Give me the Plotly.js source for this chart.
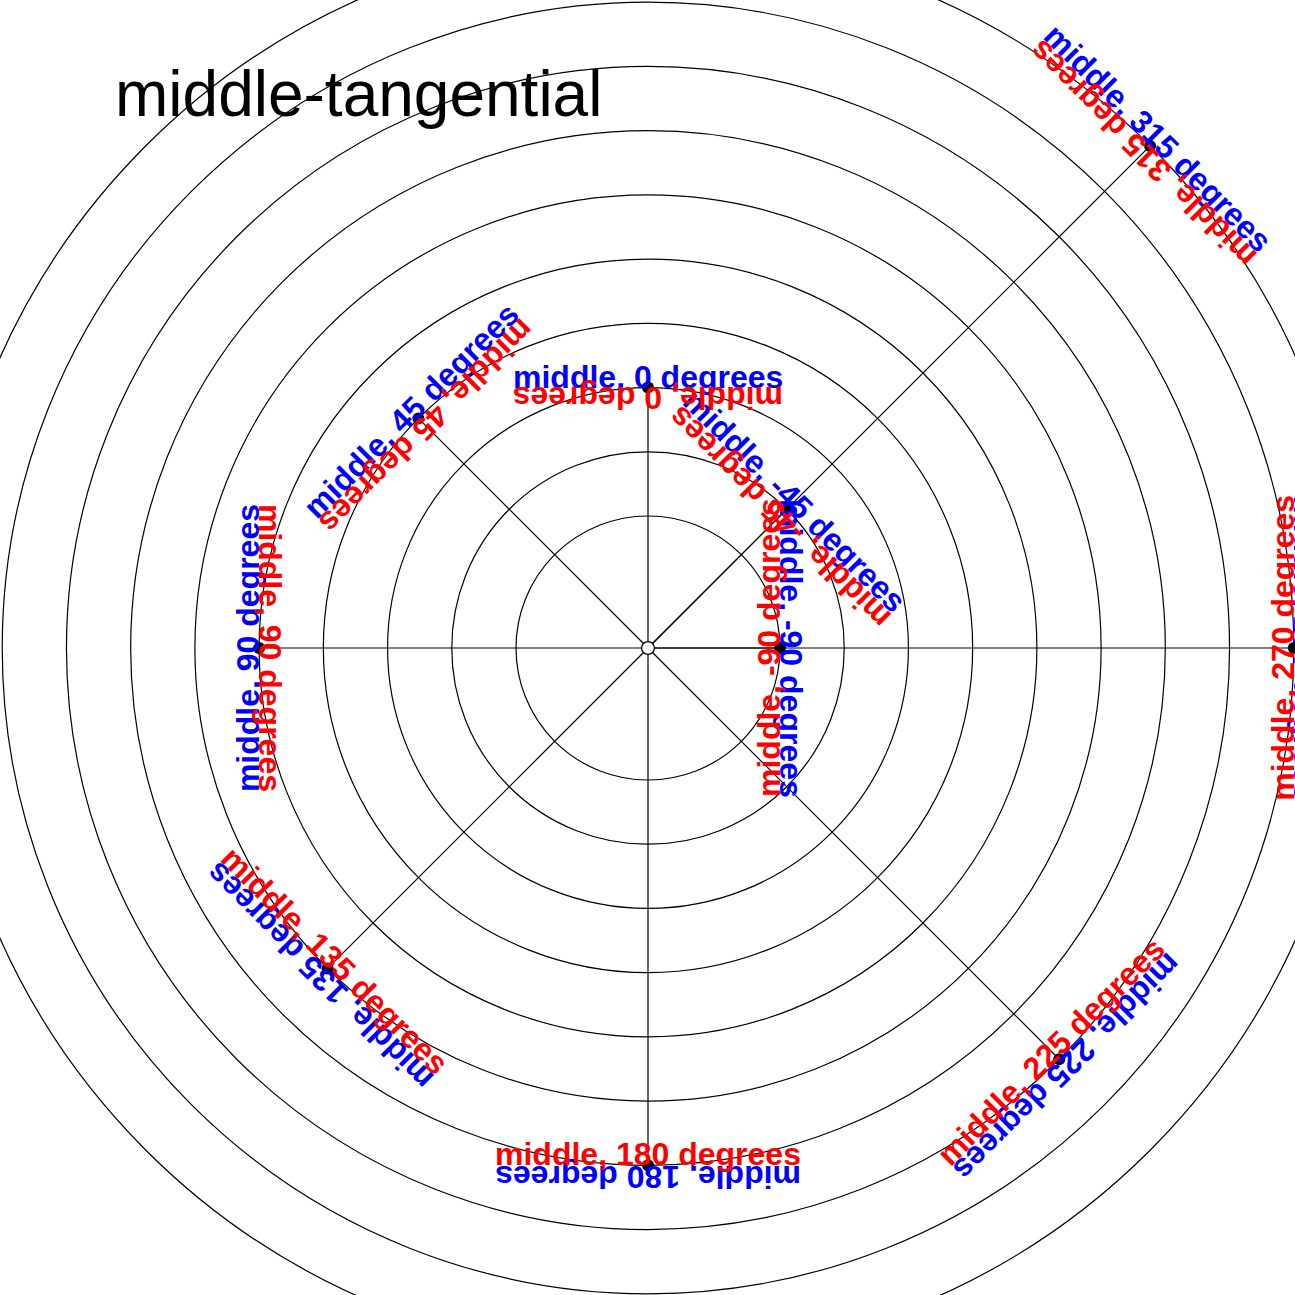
<!DOCTYPE html>
<html>
<head>
<meta charset="utf-8">
<script src="https://cdn.plot.ly/plotly-3.0.1.min.js"></script>
<style>
  html, body { margin: 0; padding: 0; overflow: hidden; background: #fff; }
  /* the polar grid runs past the window edges, so the plot div is bigger and shifted */
  #chart { position: absolute; left: -62px; top: -62px; width: 1420px; height: 1420px; }
</style>
</head>
<body>
<div id="chart"></div>
<script>
// point angles (degrees, 0 at top, counterclockwise) and radii
const thetas = [-90, -45, 0, 45, 90, 135, 180, 225, 270, 315];
const radii = [2, 3, 4, 5, 6, 7, 8, 9, 10, 11];
const labels = thetas.map(t => 'middle, ' + t + ' degrees');
const gridRadii = [2, 3, 4, 5, 6, 7, 8, 9, 10];
const rMax = 11;
const chartTitle = 'middle-tangential';

const hole = 0.005; // tiny hole in the middle of the polar plot
const holeOffset = hole * rMax / (1 - hole); // same hole in radial units for the overlay
const labelFont = { family: 'Liberation Sans, Arial, sans-serif', size: 32, weight: 'bold' };
const labelOffset = 11; // px from baseline to text centre

// stems from the origin out to every point
const stemR = [];
const stemT = [];
thetas.forEach((t, i) => {
    stemR.push(0, radii[i], null);
    stemT.push(t, t, t);
});

const traces = [
    {
        type: 'scatterpolar', r: stemR, theta: stemT, mode: 'lines',
        line: { color: 'black', width: 1.2 }, hoverinfo: 'skip', showlegend: false
    },
    {
        type: 'scatterpolar', r: radii, theta: thetas, mode: 'markers',
        marker: { size: 12, color: 'black' }, hoverinfo: 'skip', showlegend: false
    }
];

// cartesian overlay with the same scale, used to place the rotated labels
const ax = [], ay = [];
thetas.forEach((t, i) => {
    const a = (t + 90) * Math.PI / 180;
    ax.push((radii[i] + holeOffset) * Math.cos(a));
    ay.push((radii[i] + holeOffset) * Math.sin(a));
});
traces.push({
    type: 'scatter', x: ax, y: ay, mode: 'markers',
    marker: { opacity: 0 }, hoverinfo: 'skip', showlegend: false
});

const annotations = [];
thetas.forEach((t, i) => {
    const a = (t + 90) * Math.PI / 180;
    const dx = labelOffset * Math.cos(a);
    const dy = labelOffset * Math.sin(a);
    // blue: rotated with the angle, sitting outside the point
    annotations.push({
        x: ax[i], y: ay[i], xref: 'x', yref: 'y', text: labels[i], showarrow: false,
        textangle: -t, xanchor: 'center', yanchor: 'middle', xshift: dx, yshift: dy,
        font: Object.assign({ color: '#0000ff' }, labelFont)
    });
    // red: turned half way round, sitting inside the point
    annotations.push({
        x: ax[i], y: ay[i], xref: 'x', yref: 'y', text: labels[i], showarrow: false,
        textangle: -(t + 180), xanchor: 'center', yanchor: 'middle', xshift: -dx, yshift: -dy,
        font: Object.assign({ color: '#ff0000' }, labelFont)
    });
});

const layout = {
    width: 1420,
    height: 1420,
    margin: { l: 0, r: 0, t: 0, b: 0, pad: 0 },
    paper_bgcolor: 'white',
    plot_bgcolor: 'rgba(0,0,0,0)',
    showlegend: false,
    title: {
        text: chartTitle,
        x: 0.12465, xanchor: 'left',
        y: 0.8904, yanchor: 'middle',
        font: { family: 'Liberation Sans, Arial, sans-serif', size: 64, color: 'black' }
    },
    polar: {
        domain: { x: [0, 1], y: [0, 1] },
        bgcolor: 'white',
        hole: hole,
        angularaxis: {
            rotation: 90, direction: 'counterclockwise',
            showgrid: false, showticklabels: false, ticks: '',
            showline: true, linecolor: 'black', linewidth: 1.2
        },
        radialaxis: {
            range: [0, rMax], tickmode: 'array', tickvals: gridRadii,
            showgrid: true, gridcolor: 'black', gridwidth: 1.2,
            showticklabels: false, ticks: '', showline: false
        }
    },
    xaxis: { domain: [0, 1], range: [-rMax - holeOffset, rMax + holeOffset], visible: false, fixedrange: true },
    yaxis: { domain: [0, 1], range: [-rMax - holeOffset, rMax + holeOffset], visible: false, fixedrange: true },
    // small open ring at the origin
    shapes: [{
        type: 'circle', xref: 'x', yref: 'y', layer: 'above',
        x0: -0.1, x1: 0.1, y0: -0.1, y1: 0.1,
        fillcolor: 'white', line: { color: 'black', width: 1.2 }
    }],
    annotations: annotations
};

Plotly.newPlot('chart', traces, layout, { displayModeBar: false, staticPlot: true });
</script>
</body>
</html>
